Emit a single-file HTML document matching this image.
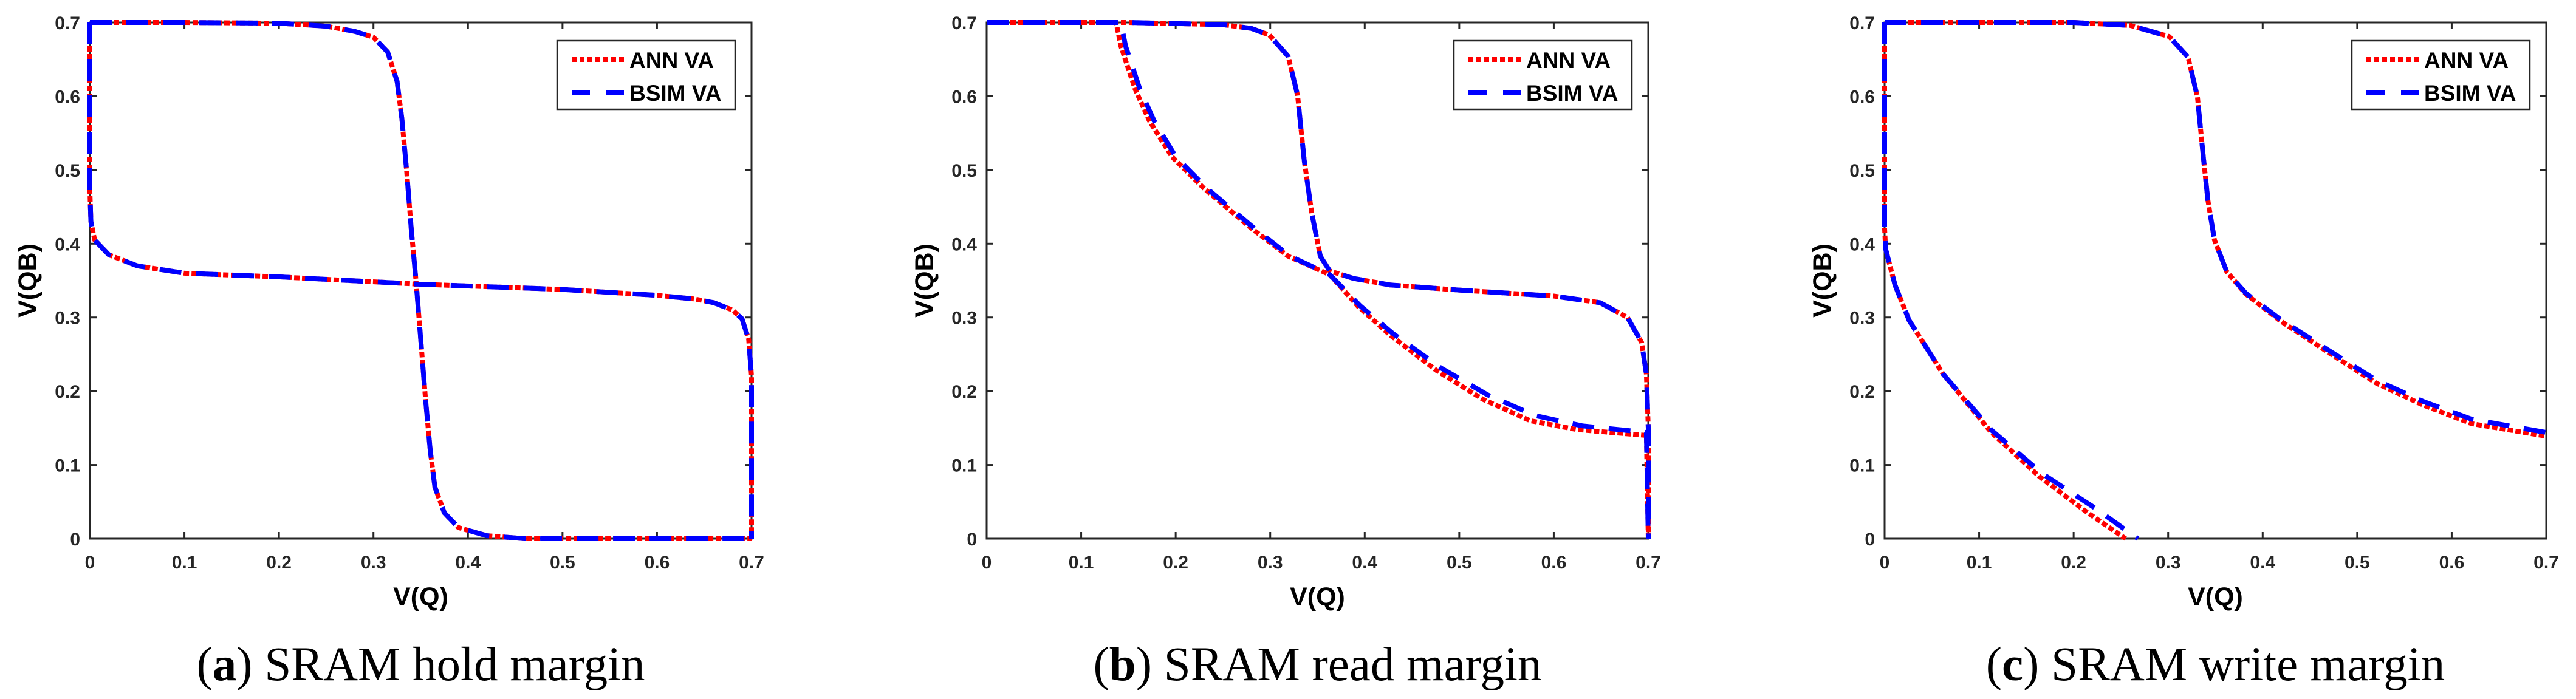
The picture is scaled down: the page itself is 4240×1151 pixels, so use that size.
<!DOCTYPE html>
<html><head><meta charset="utf-8"><style>
html,body{margin:0;padding:0;background:#fff;}
svg{display:block;}
.tick{font-family:"Liberation Sans",sans-serif;font-weight:bold;font-size:30px;fill:#262626;}
.axl{font-family:"Liberation Sans",sans-serif;font-weight:bold;font-size:43px;fill:#000;}
.leg{font-family:"Liberation Sans",sans-serif;font-weight:bold;font-size:37px;fill:#000;}
.cap{font-family:"Liberation Serif",serif;font-size:79px;fill:#000;}
</style></head><body>
<svg id="fig" width="4240" height="1151" viewBox="0 0 4240 1151" xmlns="http://www.w3.org/2000/svg"></svg>
<script>
// ---- data (V(Q), V(QB)) ----
const xTicks = [0,0.1,0.2,0.3,0.4,0.5,0.6,0.7];
const yTicks = [0,0.1,0.2,0.3,0.4,0.5,0.6,0.7];
const tickLabels = ["0","0.1","0.2","0.3","0.4","0.5","0.6","0.7"];
const seriesNames = ["ANN VA","BSIM VA"];
const captionLetters = ["a","b","c"];
const captionTexts = ["SRAM hold margin","SRAM read margin","SRAM write margin"];

// hold margin
const holdC1Q  = [0,0.1,0.2,0.25,0.28,0.3,0.315,0.325,0.33,0.335,0.34,0.345,0.35,0.355,0.36,0.365,0.375,0.39,0.42,0.46,0.6,0.7];
const holdC1QB = [0.7,0.7,0.699,0.695,0.688,0.68,0.66,0.62,0.57,0.5,0.42,0.35,0.27,0.19,0.12,0.07,0.035,0.015,0.004,0,0,0];
const holdC2Q  = [0,0,0.001,0.005,0.02,0.05,0.1,0.2,0.35,0.5,0.6,0.64,0.66,0.68,0.69,0.697,0.7,0.7];
const holdC2QB = [0.7,0.47,0.43,0.405,0.385,0.37,0.36,0.355,0.345,0.338,0.33,0.325,0.32,0.31,0.298,0.27,0.22,0];

// read margin
const readC1Q  = [0,0.15,0.25,0.28,0.299,0.319,0.329,0.336,0.344,0.353,0.363,0.388,0.427,0.501,0.6,0.649,0.678,0.693,0.698,0.7,0.7];
const readC1QB = [0.7,0.7,0.697,0.692,0.683,0.654,0.601,0.513,0.441,0.383,0.363,0.353,0.344,0.337,0.329,0.32,0.3,0.266,0.223,0.15,0];
const readAnnC2Q  = [0,0.137,0.142,0.157,0.172,0.196,0.23,0.28,0.319,0.363,0.393,0.427,0.476,0.525,0.575,0.624,0.698,0.7];
const readAnnC2QB = [0.7,0.7,0.668,0.61,0.567,0.518,0.475,0.421,0.383,0.358,0.315,0.276,0.228,0.189,0.16,0.148,0.14,0];
const readBsimC2Q  = [0,0.142,0.147,0.162,0.177,0.2,0.233,0.283,0.321,0.363,0.395,0.43,0.48,0.53,0.58,0.63,0.698,0.7];
const readBsimC2QB = [0.7,0.7,0.668,0.61,0.567,0.518,0.475,0.421,0.383,0.358,0.316,0.278,0.232,0.195,0.167,0.153,0.144,0];

// write margin
const writeAnnC1Q  = [0,0.2,0.26,0.301,0.321,0.331,0.337,0.342,0.349,0.362,0.382,0.418,0.469,0.52,0.57,0.621,0.7];
const writeAnnC1QB = [0.7,0.7,0.696,0.681,0.653,0.599,0.52,0.459,0.405,0.362,0.332,0.296,0.253,0.211,0.181,0.156,0.139];
const writeBsimC1Q  = writeAnnC1Q;
const writeBsimC1QB = [0.7,0.7,0.696,0.681,0.653,0.599,0.52,0.459,0.405,0.362,0.333,0.298,0.256,0.215,0.186,0.162,0.144];
const writeAnnC2Q  = [0,0,0.001,0.011,0.026,0.062,0.113,0.164,0.215,0.255];
const writeAnnC2QB = [0.7,0.42,0.393,0.344,0.296,0.223,0.144,0.084,0.035,0];
const writeBsimC2Q  = [0,0,0.001,0.011,0.026,0.062,0.114,0.167,0.222,0.268];
const writeBsimC2QB = [0.7,0.42,0.393,0.344,0.296,0.223,0.146,0.088,0.042,0];

const panels = [
  {L:148, name:"hold", ann:[[holdC1Q,holdC1QB],[holdC2Q,holdC2QB]], bsim:[[holdC1Q,holdC1QB],[holdC2Q,holdC2QB]]},
  {L:1624, name:"read", ann:[[readC1Q,readC1QB],[readAnnC2Q,readAnnC2QB]], bsim:[[readC1Q,readC1QB],[readBsimC2Q,readBsimC2QB]]},
  {L:3102, name:"write", ann:[[writeAnnC1Q,writeAnnC1QB],[writeAnnC2Q,writeAnnC2QB]], bsim:[[writeBsimC1Q,writeBsimC1QB],[writeBsimC2Q,writeBsimC2QB]]}
];
const W=1089, TOP=37, BOT=887;
const NS="http://www.w3.org/2000/svg";
const svg=document.getElementById('fig');
function mk(tag,attrs,parent,text){const e=document.createElementNS(NS,tag);for(const k in attrs)e.setAttribute(k,attrs[k]);if(text!==undefined)e.textContent=text;(parent||svg).appendChild(e);return e;}

panels.forEach((p,pi)=>{
  const L=p.L,R=L+W;
  const sx=v=>L+v/0.7*W;
  const sy=v=>BOT-v/0.7*(BOT-TOP);
  const g=mk('g',{});
  
  
  const draw=(curves,color,dash,nm)=>{
    curves.forEach((c,ci)=>{
      const d=c[0].map((q,i)=>(i?'L':'M')+sx(q).toFixed(1)+' '+sy(c[1][i]).toFixed(1)).join(' ');
      const path=mk('path',{d:d,fill:'none',stroke:color,'stroke-width':8,'stroke-dasharray':dash,'stroke-linejoin':'round'},g);
      
      
    });
  };
  const box=mk('rect',{x:L,y:TOP,width:W,height:BOT-TOP,fill:'none',stroke:'#262626','stroke-width':3},g);
  
  
  xTicks.forEach((t,i)=>{
    const x=sx(t);
    mk('line',{x1:x,y1:BOT,x2:x,y2:BOT-11,stroke:'#262626','stroke-width':3},g);
    mk('line',{x1:x,y1:TOP,x2:x,y2:TOP+11,stroke:'#262626','stroke-width':3},g);
    const tl=mk('text',{x:x,y:936,'text-anchor':'middle',class:'tick'},g,tickLabels[i]);
    
    
  });
  yTicks.forEach((t,i)=>{
    const y=sy(t);
    mk('line',{x1:L,y1:y,x2:L+11,y2:y,stroke:'#262626','stroke-width':3},g);
    mk('line',{x1:R,y1:y,x2:R-11,y2:y,stroke:'#262626','stroke-width':3},g);
    const tl=mk('text',{x:L-16,y:y+11,'text-anchor':'end',class:'tick'},g,tickLabels[i]);
    
    
  });
  draw(p.ann,'#ff0000','9 4','ann');
  draw(p.bsim,'#0000ff','36 24','bsim');
  const xl=mk('text',{x:L+W/2,y:997,'text-anchor':'middle',class:'axl'},g,'V(Q)');
  
  
  const yx=L-88, yy=(TOP+BOT)/2;
  const yl=mk('text',{x:yx,y:yy,'text-anchor':'middle',class:'axl',transform:'rotate(-90 '+yx+' '+yy+')'},g,'V(QB)');
  
  
  const lx=R-320, ly=67;
  const lg=mk('g',{},g);
  
  
  mk('rect',{x:lx,y:ly,width:293,height:113,fill:'#fff',stroke:'#262626','stroke-width':2.5},lg);
  const e1=mk('g',{},lg);
  
  
  mk('line',{x1:lx+24,y1:ly+31,x2:lx+110,y2:ly+31,stroke:'#ff0000','stroke-width':8,'stroke-dasharray':'8 5'},e1);
  mk('text',{x:lx+119,y:ly+45,class:'leg'},e1,seriesNames[0]);
  const e2=mk('g',{},lg);
  
  
  mk('line',{x1:lx+24,y1:ly+85,x2:lx+110,y2:ly+85,stroke:'#0000ff','stroke-width':8,'stroke-dasharray':'30 27'},e2);
  mk('text',{x:lx+119,y:ly+99,class:'leg'},e2,seriesNames[1]);
  const cap=mk('text',{x:L+W/2,y:1120,'text-anchor':'middle',class:'cap'},g);
  
  
  mk('tspan',{},cap,'(');
  mk('tspan',{'font-weight':'bold'},cap,captionLetters[pi]);
  mk('tspan',{},cap,') '+captionTexts[pi]);
});
</script>
</body></html>
